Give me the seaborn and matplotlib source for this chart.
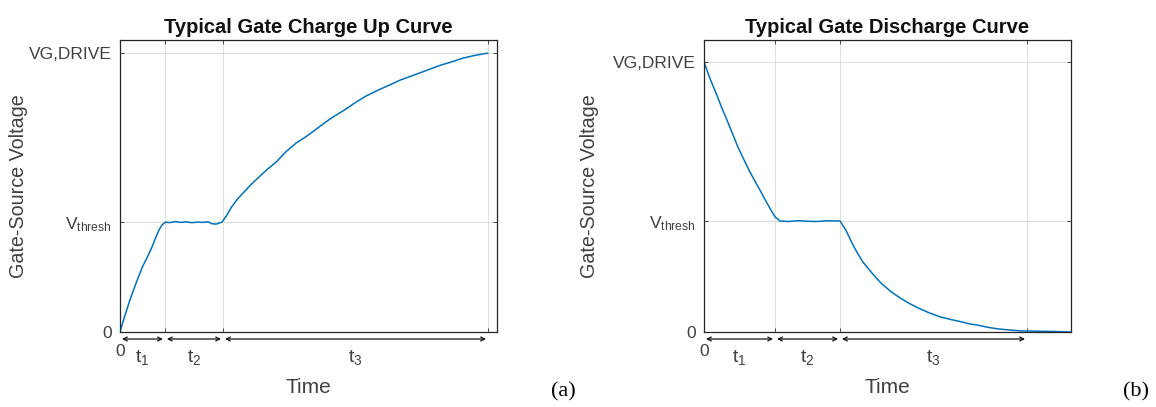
import numpy as np
import pandas as pd
import matplotlib
matplotlib.use("Agg")
import matplotlib.pyplot as plt
import matplotlib.transforms as mtransforms
import seaborn as sns

# ---- data (time normalised so the end of t3 = 1, voltage normalised to VG,DRIVE = 1) ----
charge_curve = [
    (0.000, 0.000), (0.010, 0.045), (0.027, 0.115), (0.045, 0.180), (0.061, 0.234),
    (0.075, 0.270), (0.087, 0.305), (0.097, 0.338), (0.106, 0.366), (0.115, 0.385),
    (0.124, 0.394), (0.135, 0.392), (0.150, 0.396), (0.165, 0.393), (0.180, 0.395),
    (0.195, 0.392), (0.210, 0.394), (0.225, 0.393), (0.240, 0.395), (0.250, 0.388),
    (0.262, 0.387), (0.270, 0.391), (0.277, 0.394), (0.290, 0.418), (0.303, 0.448),
    (0.320, 0.478), (0.337, 0.502), (0.357, 0.530), (0.378, 0.556), (0.400, 0.583),
    (0.424, 0.609), (0.450, 0.645), (0.478, 0.677), (0.505, 0.700), (0.530, 0.724),
    (0.555, 0.749), (0.579, 0.771), (0.610, 0.796), (0.641, 0.824), (0.670, 0.847),
    (0.701, 0.867), (0.730, 0.884), (0.761, 0.903), (0.790, 0.917), (0.821, 0.932),
    (0.845, 0.944), (0.872, 0.957), (0.900, 0.968), (0.932, 0.982), (0.965, 0.992),
    (1.000, 1.000),
]
discharge_curve = [
    (0.000, 1.000), (0.018, 0.940), (0.037, 0.885), (0.055, 0.830), (0.071, 0.785),
    (0.088, 0.735), (0.105, 0.685), (0.122, 0.642), (0.139, 0.600), (0.156, 0.562),
    (0.173, 0.526), (0.190, 0.488), (0.207, 0.452), (0.220, 0.426), (0.235, 0.411),
    (0.260, 0.409), (0.290, 0.412), (0.320, 0.410), (0.350, 0.409), (0.380, 0.412),
    (0.400, 0.411), (0.421, 0.411), (0.440, 0.375), (0.458, 0.330), (0.475, 0.292),
    (0.492, 0.259), (0.520, 0.218), (0.548, 0.181), (0.578, 0.150), (0.607, 0.126),
    (0.635, 0.106), (0.663, 0.089), (0.697, 0.071), (0.731, 0.056), (0.765, 0.046),
    (0.799, 0.037), (0.822, 0.030), (0.845, 0.026), (0.880, 0.017), (0.913, 0.011),
    (0.950, 0.007), (0.981, 0.004), (1.030, 0.003), (1.080, 0.002), (1.136, 0.000),
]

charge_phases = [0.0, 0.122, 0.280, 1.0]      # 0, end of t1, end of t2, end of t3
discharge_phases = [0.0, 0.220, 0.421, 1.0]

charge_levels = [0.0, 0.394, 1.0]             # 0, Vthresh, VG,DRIVE
discharge_levels = [0.0, 0.411, 1.0]

level_labels = ["0", r"V$_{\mathregular{thresh}}$", "VG,DRIVE"]
phase_labels = [r"t$_{\mathregular{1}}$", r"t$_{\mathregular{2}}$", r"t$_{\mathregular{3}}$"]
titles = ["Typical Gate Charge Up Curve", "Typical Gate Discharge Curve"]
panel_tags = ["(a)", "(b)"]

# ---- styling ----
sns.set_theme(style="white")
plt.rcParams["font.family"] = ["Liberation Sans", "DejaVu Sans"]
plt.rcParams["mathtext.fontset"] = "custom"
plt.rcParams["mathtext.rm"] = "Liberation Sans"
plt.rcParams["mathtext.it"] = "Liberation Sans"

LINE = "#0072BD"
TXT = "#404040"

fig = plt.figure(figsize=(11.56, 4.07), dpi=100)
ax_positions = [
    [120 / 1156, 75 / 407, 377 / 1156, 292 / 407],
    [704 / 1156, 75 / 407, 367 / 1156, 292 / 407],
]
ylabel_x = [-0.244, -0.285]
tag_x = [563 / 1156, 1136 / 1156]
panels = [
    (charge_curve, charge_phases, charge_levels, 1.0245, 1.047),
    (discharge_curve, discharge_phases, discharge_levels, 1.136, 1.081),
]

for i, (curve, phases, levels, xmax, ymax) in enumerate(panels):
    ax = fig.add_axes(ax_positions[i])
    df = pd.DataFrame(curve, columns=["time", "voltage"])
    sns.lineplot(data=df, x="time", y="voltage", ax=ax, color=LINE,
                 linewidth=1.1, sort=False, estimator=None)

    ax.set_xlim(0, xmax)
    ax.set_ylim(0, ymax)
    ax.set_xticks(phases[1:])
    ax.set_xticklabels([])
    ax.set_yticks(levels)
    ax.set_yticklabels(level_labels, fontsize=12.5, color=TXT)
    ax.tick_params(direction="in", length=3, width=0.6, top=True, right=True,
                   bottom=True, left=True, colors="#303030", labelcolor=TXT, pad=6)
    ax.grid(True, color="#dedede", linewidth=0.7)
    for sp in ax.spines.values():
        sp.set_visible(True)
        sp.set_color("#262626")
        sp.set_linewidth(0.9)

    ax.set_title(titles[i], fontsize=14.5, fontweight="bold", color="#111111", pad=5)
    ax.set_ylabel("Gate-Source Voltage", fontsize=14.2, color=TXT)
    ax.yaxis.set_label_coords(ylabel_x[i], 0.5)
    ax.set_xlabel("")
    ax.text(0.5, -0.19, "Time", transform=ax.transAxes, ha="center", va="center",
            fontsize=15, color=TXT)

    # phase arrows beneath the axis
    trans = mtransforms.blended_transform_factory(ax.transData, ax.transAxes)
    gap = 2.0 / (ax_positions[i][2] * 1156) * xmax
    for k in range(3):
        x0, x1 = phases[k], phases[k + 1]
        ax.annotate("", xy=(x1 - gap, -0.024), xytext=(x0 + gap, -0.024),
                    xycoords=trans, textcoords=trans, annotation_clip=False,
                    arrowprops=dict(arrowstyle="<->", color="#111111", lw=0.9,
                                    shrinkA=0, shrinkB=0, mutation_scale=7))
        ax.text(0.5 * (x0 + x1), -0.088, phase_labels[k], transform=trans,
                ha="center", va="center", fontsize=14, color=TXT)
    ax.text(0.0, -0.068, "0", transform=trans, ha="center", va="center",
            fontsize=12.5, color=TXT)

    fig.text(tag_x[i], 1 - 392 / 407, panel_tags[i], ha="center", va="center",
             fontsize=16, color="black", family=["Liberation Serif", "DejaVu Serif"])

fig.savefig("out.png", dpi=100)
